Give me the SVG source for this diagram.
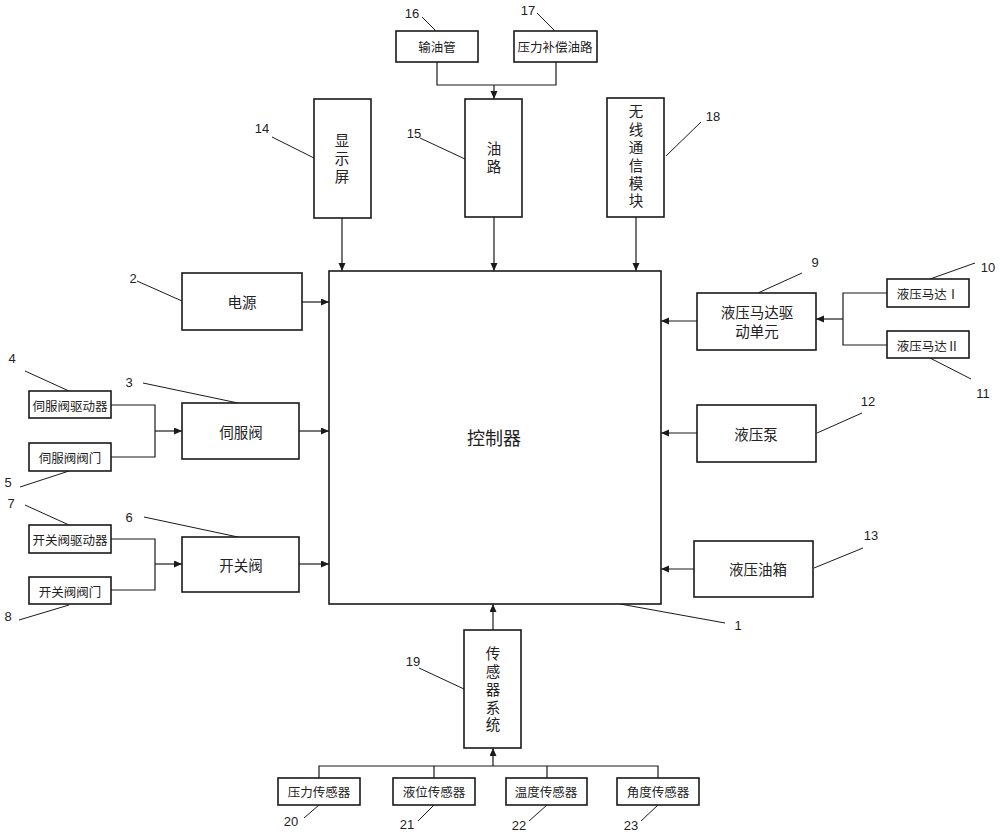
<svg xmlns="http://www.w3.org/2000/svg" width="1000" height="835" viewBox="0 0 1000 835">
<style>
.b{fill:#fff;stroke:#1a1a1a;stroke-width:1.6}
.c{fill:none;stroke:#1a1a1a;stroke-width:1.2}
.l{fill:none;stroke:#1a1a1a;stroke-width:1}
.t{font-family:"Noto Sans CJK SC","Noto Sans",sans-serif;fill:#222;text-anchor:middle;dominant-baseline:central}
.s{font-size:12.5px}
.m{font-size:14.5px}
.v{writing-mode:vertical-rl;letter-spacing:3.3px}
.n{font-family:"Liberation Sans","DejaVu Sans",sans-serif;font-size:13px;fill:#222;text-anchor:middle;dominant-baseline:central}
</style>
<defs>
<marker id="a" markerWidth="9" markerHeight="8" refX="8" refY="3.5" orient="auto" markerUnits="userSpaceOnUse">
<path d="M0,0 L8,3.5 L0,7 z" fill="#1a1a1a"/>
</marker>
</defs>
<rect width="1000" height="835" fill="#fff"/>

<g id="connectors">
<path class="c" d="M342,218 V271" marker-end="url(#a)"/>
<path class="c" d="M494,217 V271" marker-end="url(#a)"/>
<path class="c" d="M636,217 V271" marker-end="url(#a)"/>
<path class="c" d="M437,62 V85 H556 V62"/>
<path class="c" d="M494,85 V99" marker-end="url(#a)"/>
<path class="c" d="M302,302 H329" marker-end="url(#a)"/>
<path class="c" d="M299,431 H329" marker-end="url(#a)"/>
<path class="c" d="M299,564 H329" marker-end="url(#a)"/>
<path class="c" d="M111,405 H155 V457 H111"/>
<path class="c" d="M155,431 H182" marker-end="url(#a)"/>
<path class="c" d="M111,539 H155 V590 H111"/>
<path class="c" d="M155,564 H182" marker-end="url(#a)"/>
<path class="c" d="M697,321 H661" marker-end="url(#a)"/>
<path class="c" d="M697,433 H661" marker-end="url(#a)"/>
<path class="c" d="M694,569 H661" marker-end="url(#a)"/>
<path class="c" d="M887,293 H843 V345 H887"/>
<path class="c" d="M843,319 H816" marker-end="url(#a)"/>
<path class="c" d="M493,630 V604" marker-end="url(#a)"/>
<path class="c" d="M493,766 V748" marker-end="url(#a)"/>
<path class="c" d="M319,778 V766 H658 V778"/>
<path class="c" d="M434,766 V778"/>
<path class="c" d="M547,766 V778"/>
</g>

<g id="leaders">
<path class="l" d="M725,623 L620,604"/>
<path class="l" d="M137,281 L182,301"/>
<path class="l" d="M143,383 L238,403"/>
<path class="l" d="M25,371 L69,391"/>
<path class="l" d="M20,487 L69,471"/>
<path class="l" d="M144,517 L238,537"/>
<path class="l" d="M25,505 L69,525"/>
<path class="l" d="M19,620 L69,605"/>
<path class="l" d="M802,273 L758,293"/>
<path class="l" d="M975,263 L930,279"/>
<path class="l" d="M971,379 L930,358"/>
<path class="l" d="M862,413 L817,433"/>
<path class="l" d="M863,548 L814,568"/>
<path class="l" d="M272,137 L314,158"/>
<path class="l" d="M420,138 L465,159"/>
<path class="l" d="M422,17 L436,31"/>
<path class="l" d="M537,13 L555,31"/>
<path class="l" d="M701,122 L666,156"/>
<path class="l" d="M419,668 L464,689"/>
<path class="l" d="M304,818 L319,805"/>
<path class="l" d="M418,821 L434,805"/>
<path class="l" d="M529,821 L547,805"/>
<path class="l" d="M641,821 L658,805"/>
</g>

<g id="n1"><rect class="b" x="329" y="271" width="332" height="333"/><text class="t" x="494" y="437" font-size="18">控制器</text><text class="n" x="738" y="625">1</text></g>
<g id="n2"><rect class="b" x="182" y="273" width="120" height="57"/><text class="t m" x="242" y="301">电源</text><text class="n" x="133" y="278">2</text></g>
<g id="n3"><rect class="b" x="182" y="403" width="117" height="56"/><text class="t m" x="241" y="431">伺服阀</text><text class="n" x="129" y="382">3</text></g>
<g id="n4"><rect class="b" x="29" y="391" width="82" height="27"/><text class="t s" x="70" y="405">伺服阀驱动器</text><text class="n" x="12" y="358">4</text></g>
<g id="n5"><rect class="b" x="29" y="443" width="82" height="28"/><text class="t s" x="70" y="457">伺服阀阀门</text><text class="n" x="8" y="482">5</text></g>
<g id="n6"><rect class="b" x="182" y="537" width="117" height="55"/><text class="t m" x="241" y="564">开关阀</text><text class="n" x="129" y="517">6</text></g>
<g id="n7"><rect class="b" x="29" y="525" width="82" height="28"/><text class="t s" x="70" y="539">开关阀驱动器</text><text class="n" x="11" y="503">7</text></g>
<g id="n8"><rect class="b" x="29" y="577" width="82" height="27"/><text class="t s" x="70" y="591">开关阀阀门</text><text class="n" x="8" y="616">8</text></g>
<g id="n9"><rect class="b" x="697" y="293" width="119" height="57"/><text class="t m" x="757"><tspan x="757" y="311">液压马达驱</tspan><tspan x="757" y="330">动单元</tspan></text><text class="n" x="815" y="262">9</text></g>
<g id="n10"><rect class="b" x="887" y="279" width="82" height="28"/><text class="t s" x="928" y="293">液压马达Ⅰ</text><text class="n" x="988" y="267">10</text></g>
<g id="n11"><rect class="b" x="887" y="331" width="82" height="27"/><text class="t s" x="928" y="345">液压马达Ⅱ</text><text class="n" x="983" y="393">11</text></g>
<g id="n12"><rect class="b" x="697" y="405" width="119" height="57"/><text class="t m" x="756" y="433">液压泵</text><text class="n" x="868" y="401">12</text></g>
<g id="n13"><rect class="b" x="694" y="541" width="119" height="56"/><text class="t m" x="758" y="568">液压油箱</text><text class="n" x="871" y="535">13</text></g>
<g id="n14"><rect class="b" x="314" y="99" width="57" height="119"/><text class="t m v" x="342" y="160">显示屏</text><text class="n" x="262" y="128">14</text></g>
<g id="n15"><rect class="b" x="465" y="99" width="57" height="118"/><text class="t m v" x="494" y="159">油路</text><text class="n" x="414" y="133">15</text></g>
<g id="n16"><rect class="b" x="396" y="31" width="82" height="31"/><text class="t s" x="437" y="46">输油管</text><text class="n" x="412" y="13">16</text></g>
<g id="n17"><rect class="b" x="514" y="31" width="83" height="31"/><text class="t s" x="555" y="46">压力补偿油路</text><text class="n" x="528" y="10">17</text></g>
<g id="n18"><rect class="b" x="607" y="98" width="57" height="119"/><text class="t m v" x="636" y="158">无线通信模块</text><text class="n" x="713" y="116">18</text></g>
<g id="n19"><rect class="b" x="464" y="630" width="57" height="118"/><text class="t m v" x="493" y="691">传感器系统</text><text class="n" x="413" y="661">19</text></g>
<g id="n20"><rect class="b" x="278" y="778" width="82" height="27"/><text class="t s" x="319" y="791">压力传感器</text><text class="n" x="291" y="821">20</text></g>
<g id="n21"><rect class="b" x="393" y="778" width="82" height="27"/><text class="t s" x="434" y="791">液位传感器</text><text class="n" x="407" y="824">21</text></g>
<g id="n22"><rect class="b" x="506" y="778" width="81" height="27"/><text class="t s" x="546" y="791">温度传感器</text><text class="n" x="519" y="825">22</text></g>
<g id="n23"><rect class="b" x="617" y="778" width="82" height="27"/><text class="t s" x="658" y="791">角度传感器</text><text class="n" x="631" y="825">23</text></g>
</svg>
